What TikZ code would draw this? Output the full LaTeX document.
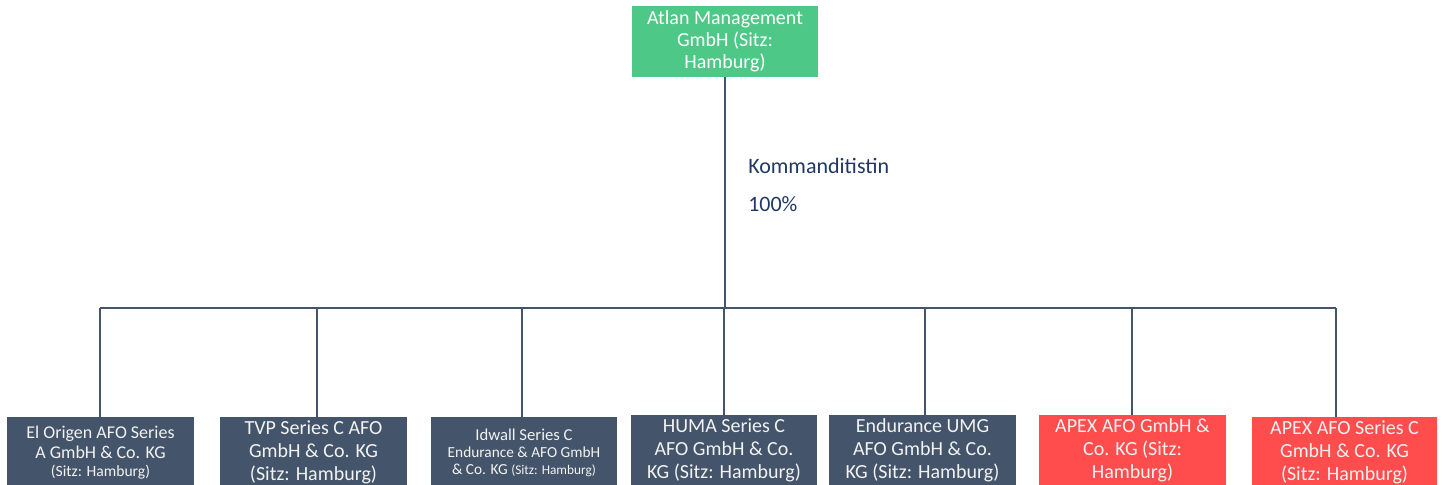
\documentclass[tikz,border=0pt]{standalone}
\usepackage{fontspec}
\setmainfont{Carlito}
\usetikzlibrary{positioning}

\definecolor{atlangreen}{RGB}{77,200,135}
\definecolor{fundblue}{RGB}{68,84,106}
\definecolor{fundred}{RGB}{255,77,77}
\definecolor{linkgray}{RGB}{68,84,106}
\definecolor{labelblue}{RGB}{32,56,100}
\definecolor{boxtext}{RGB}{242,242,242}

\begin{document}
\begin{tikzpicture}[x=0.75pt, y=-0.75pt,
    orgbox/.style={minimum height=53pt, inner sep=0pt, align=center,
                   text=boxtext, anchor=north},
    darkbox/.style={orgbox, fill=fundblue},
    redbox/.style={orgbox, fill=fundred},
    link/.style={draw=linkgray, line width=1.5pt},
    bigtext/.style={font=\fontsize{15}{17.25}\selectfont}]
    \useasboundingbox (0,0) rectangle (1448,485);

    % Parent
    \node[fill=atlangreen, text=white, align=center, inner sep=0pt,
          minimum width=139.5pt, minimum height=53pt,
          font=\fontsize{15}{16.5}\selectfont] (atlan) at (725,41.5)
        {Atlan Management\\GmbH (Sitz:\\Hamburg)};

    % Funds
    \node[darkbox, minimum width=140pt, font=\fontsize{13.5}{15}\selectfont] (elorigen) at (100.5,417)
        {El Origen AFO Series\\A GmbH \& Co. KG\\[-2pt]\fontsize{11.7}{13}\selectfont (Sitz: Hamburg)};
    \node[darkbox, bigtext, minimum width=140pt] (tvp) at (313.5,417)
        {TVP Series C AFO\\GmbH \& Co. KG\\(Sitz: Hamburg)};
    \node[darkbox, minimum width=139.5pt, font=\fontsize{11.5}{12.75}\selectfont] (idwall) at (524,417)
        {\fontsize{12.5}{12.75}\selectfont Idwall Series C\\Endurance \& AFO GmbH\\\& Co. KG {\fontsize{10}{12}\selectfont (Sitz: Hamburg)}};
    \node[darkbox, bigtext, minimum width=139.5pt] (huma) at (724,415)
        {HUMA Series C\\AFO GmbH \& Co.\\KG (Sitz: Hamburg)};
    \node[darkbox, bigtext, minimum width=140pt] (endurance) at (922.5,415)
        {Endurance UMG\\AFO GmbH \& Co.\\KG (Sitz: Hamburg)};
    \node[redbox, bigtext, minimum width=140pt] (apex) at (1132.5,415)
        {APEX AFO GmbH \&\\Co. KG (Sitz:\\Hamburg)};
    \node[redbox, bigtext, minimum width=139pt] (apexc) at (1344.5,417)
        {APEX AFO Series C\\GmbH \& Co. KG\\(Sitz: Hamburg)};

    % Bus
    \coordinate (hub) at (725,308);
    \coordinate (d1) at (100,308);
    \coordinate (d2) at (317,308);
    \coordinate (d3) at (522,308);
    \coordinate (d4) at (724,308);
    \coordinate (d5) at (925,308);
    \coordinate (d6) at (1132,308);
    \coordinate (d7) at (1336,308);

    \draw[link] (atlan.south) -- (hub);
    \draw[link] (d1) -- (d7);
    \draw[link] (d1) -- (d1 |- elorigen.north);
    \draw[link] (d2) -- (d2 |- tvp.north);
    \draw[link] (d3) -- (d3 |- idwall.north);
    \draw[link] (d4) -- (d4 |- huma.north);
    \draw[link] (d5) -- (d5 |- endurance.north);
    \draw[link] (d6) -- (d6 |- apex.north);
    \draw[link] (d7) -- (d7 |- apexc.north);

    % Share label
    \node[anchor=west, text=labelblue, inner sep=0pt, font=\fontsize{16.5}{18}\selectfont] (role) at (748,166) {Kommanditistin};
    \node[anchor=west, text=labelblue, inner sep=0pt, font=\fontsize{16.5}{18}\selectfont] (share) at (748,204) {100\%};
\end{tikzpicture}
\end{document}
